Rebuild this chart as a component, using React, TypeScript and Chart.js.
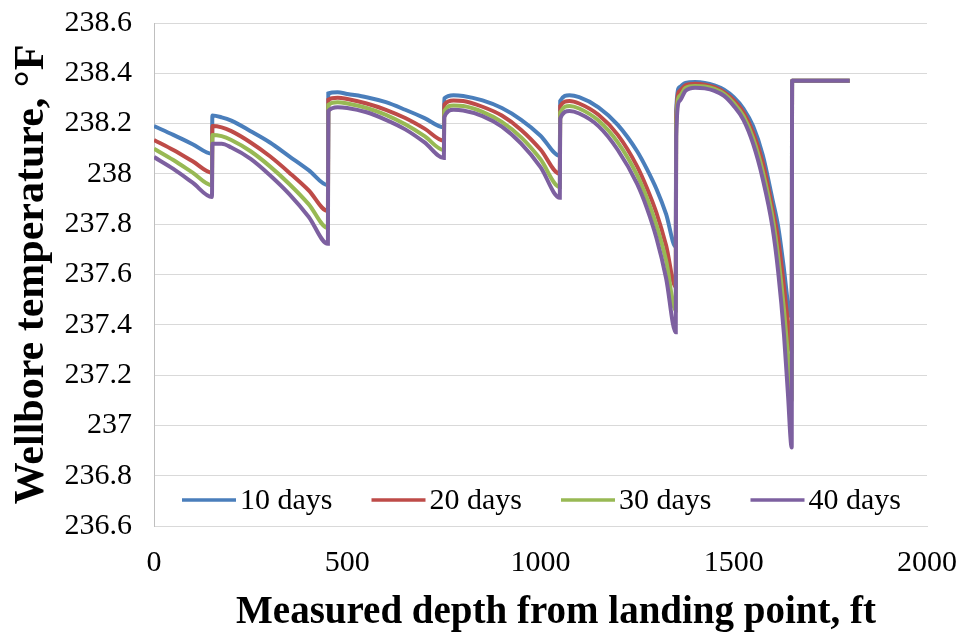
import React, { useEffect, useRef } from "react";
import { Chart, registerables } from "chart.js";

Chart.register(...registerables);

// Measured depth from landing point, ft (shared by all series)
const depths = [
  0, 50, 100, 150,
  151, 175, 200, 250, 300, 350, 400, 450,
  451, 475, 500, 550, 600, 650, 700, 750,
  751, 775, 800, 850, 900, 950, 1000, 1050,
  1051, 1075, 1100, 1150, 1200, 1250, 1275, 1300, 1325, 1350,
  1351, 1360, 1375, 1400, 1425, 1450, 1475, 1500, 1525, 1550, 1575, 1600, 1615, 1630, 1640, 1650,
  1651, 1800,
];

const days10 = [
  238.19, 238.155, 238.118, 238.08,
  238.232, 238.225, 238.212, 238.17, 238.125, 238.07, 238.015, 237.955,
  238.32, 238.325, 238.318, 238.305, 238.285, 238.255, 238.222, 238.185,
  238.3, 238.313, 238.31, 238.292, 238.262, 238.215, 238.152, 238.072,
  238.29, 238.313, 238.305, 238.265, 238.195, 238.09, 238.02, 237.94, 237.84, 237.71,
  238.25, 238.345, 238.362, 238.365, 238.362, 238.352, 238.335, 238.305, 238.26, 238.19, 238.075, 237.9, 237.79, 237.62, 237.49, 237.43,
  238.37, 238.37,
];

const days20 = [
  238.135, 238.095, 238.05, 238.005,
  238.19, 238.185, 238.17, 238.125, 238.07, 238.005, 237.935, 237.852,
  238.295, 238.303, 238.298, 238.28, 238.255, 238.222, 238.18, 238.132,
  238.275, 238.292, 238.29, 238.267, 238.232, 238.175, 238.097, 238.0,
  238.27, 238.29, 238.28, 238.235, 238.155, 238.03, 237.945, 237.845, 237.715, 237.55,
  238.22, 238.33, 238.352, 238.358, 238.355, 238.345, 238.325, 238.293, 238.245, 238.165, 238.045, 237.865, 237.74, 237.55, 237.41, 237.29,
  238.37, 238.37,
];

const days30 = [
  238.1, 238.055, 238.005, 237.955,
  238.155, 238.15, 238.135, 238.09, 238.03, 237.96, 237.88, 237.785,
  238.275, 238.285, 238.28, 238.262, 238.235, 238.197, 238.15, 238.095,
  238.25, 238.272, 238.27, 238.247, 238.207, 238.145, 238.058, 237.948,
  238.245, 238.27, 238.26, 238.212, 238.125, 237.995, 237.905, 237.795, 237.655, 237.457,
  238.19, 238.31, 238.342, 238.35, 238.348, 238.338, 238.318, 238.282, 238.23, 238.142, 238.01, 237.83, 237.67, 237.46, 237.28, 237.1,
  238.37, 238.37,
];

const days40 = [
  238.067, 238.02, 237.965, 237.908,
  238.12, 238.12, 238.105, 238.06, 237.995, 237.92, 237.83, 237.722,
  238.25, 238.265, 238.262, 238.245, 238.215, 238.177, 238.125, 238.063,
  238.225, 238.255, 238.252, 238.23, 238.188, 238.12, 238.027, 237.905,
  238.22, 238.25, 238.24, 238.19, 238.095, 237.96, 237.865, 237.745, 237.585, 237.37,
  238.15, 238.29, 238.33, 238.343, 238.34, 238.33, 238.31, 238.27, 238.215, 238.12, 237.98, 237.79, 237.61, 237.36, 237.13, 236.912,
  238.37, 238.37,
];

const seriesLabels = ["10 days", "20 days", "30 days", "40 days"];
const seriesValues = [days10, days20, days30, days40];
const seriesColors = ["#4A7EBB", "#BE4B48", "#98B954", "#7D60A0"];

const xTitle = "Measured depth from landing point, ft";
const yTitle = "Wellbore temperature, °F";

const FONT = "'Liberation Serif', 'Times New Roman', serif";

const insideLegend = {
  id: "insideLegend",
  afterDatasetsDraw(chart: any) {
    const { ctx, chartArea } = chart;
    ctx.save();
    const y = chartArea.bottom - 26;
    seriesLabels.forEach((label, i) => {
      const x0 = chartArea.left + 28 + i * 189.5;
      ctx.strokeStyle = seriesColors[i];
      ctx.lineWidth = 3.5;
      ctx.lineCap = "butt";
      ctx.beginPath();
      ctx.moveTo(x0, y);
      ctx.lineTo(x0 + 54, y);
      ctx.stroke();
      ctx.fillStyle = "#000";
      ctx.font = `30px ${FONT}`;
      ctx.textAlign = "left";
      ctx.textBaseline = "middle";
      ctx.fillText(label, x0 + 58, y + 1);
    });
    ctx.restore();
  },
  afterDraw(chart: any) {
    const { ctx } = chart;
    ctx.save();
    ctx.fillStyle = "#000";
    ctx.font = `bold 39px ${FONT}`;
    ctx.textAlign = "center";
    ctx.textBaseline = "alphabetic";
    ctx.fillText(xTitle, 556, 623);
    ctx.restore();
  },
};

export default function App() {
  const ref = useRef<HTMLCanvasElement | null>(null);

  useEffect(() => {
    if (!ref.current) return;
    const datasets = seriesLabels.map((label, s) => ({
      label,
      data: depths.map((d, i) => ({ x: d, y: seriesValues[s][i] })),
      borderColor: seriesColors[s],
      backgroundColor: seriesColors[s],
      borderWidth: 4,
      pointRadius: 0,
      fill: false,
      order: seriesLabels.length - 1 - s,
      cubicInterpolationMode: "monotone" as const,
    }));

    const chart = new Chart(ref.current, {
      type: "line",
      data: { datasets },
      plugins: [insideLegend],
      options: {
        animation: false,
        responsive: true,
        maintainAspectRatio: false,
        layout: { padding: { top: 23, right: 37, bottom: 0, left: 0 } },
        plugins: {
          legend: { display: false },
          tooltip: { enabled: false },
        },
        scales: {
          x: {
            type: "linear",
            min: 0,
            max: 2000,
            ticks: {
              stepSize: 500,
              color: "#000",
              font: { family: FONT, size: 30 },
              padding: 19,
              maxRotation: 0,
              callback: (v: any) => String(v),
            },
            grid: { display: false, drawTicks: false },
            border: { display: true, color: "#D9D9D9", width: 1 },
            afterFit(scale: any) {
              scale.height = 107;
              scale.paddingLeft = 0;
              scale.paddingRight = 0;
            },
          },
          y: {
            type: "linear",
            min: 236.6,
            max: 238.6,
            ticks: {
              stepSize: 0.2,
              color: "#000",
              font: { family: FONT, size: 30 },
              padding: 22,
              callback: (v: any) => String(parseFloat(Number(v).toFixed(1))),
            },
            grid: { color: "#D9D9D9", lineWidth: 1, drawTicks: false },
            border: { display: true, color: "#BFBFBF", width: 1 },
            title: {
              display: true,
              text: yTitle,
              color: "#000",
              font: { family: FONT, size: 42, weight: "bold" },
              padding: { top: 7, bottom: 0 },
            },
            afterFit(scale: any) {
              scale.width = 154;
              scale.paddingTop = 0;
              scale.paddingBottom = 0;
            },
          },
        },
      },
    });
    return () => chart.destroy();
  }, []);

  return (
    <div style={{ position: "absolute", left: 0, top: 0, width: 964, height: 633, background: "#fff" }}>
      <canvas ref={ref} />
    </div>
  );
}
